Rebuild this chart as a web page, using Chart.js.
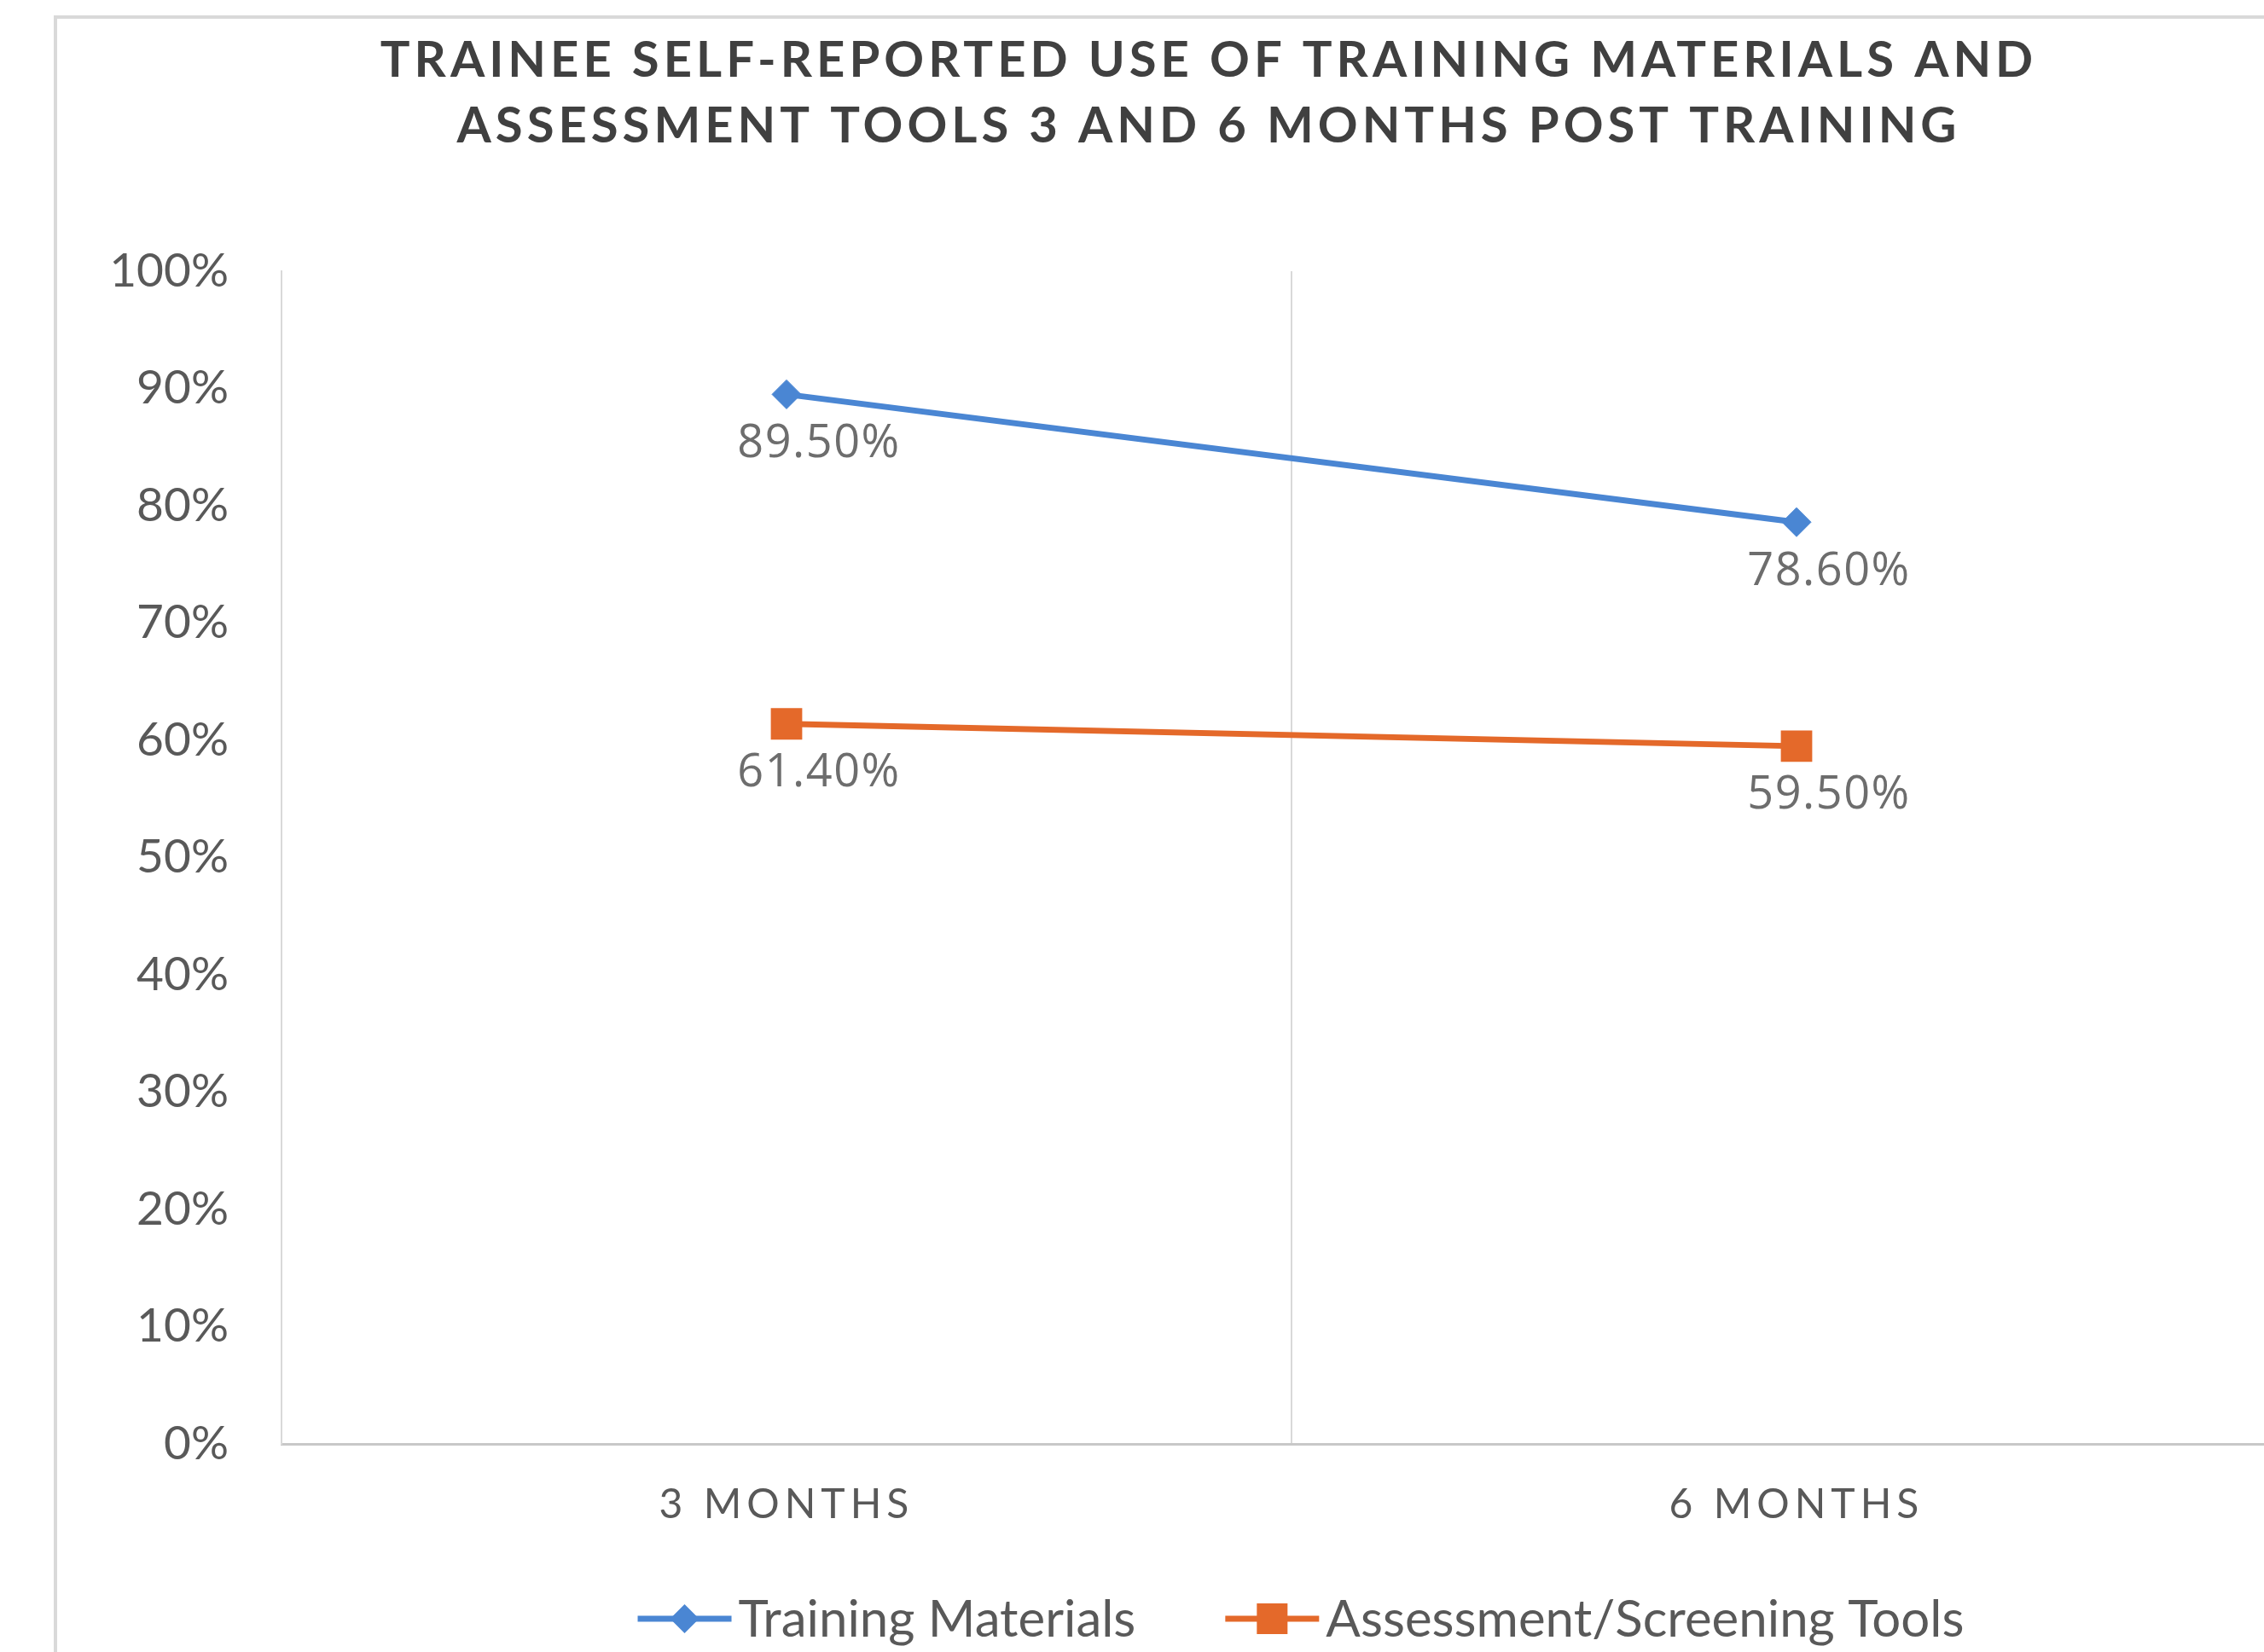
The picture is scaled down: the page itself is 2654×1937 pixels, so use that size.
<!DOCTYPE html>
<html>
<head>
<meta charset="utf-8">
<script src="https://cdn.jsdelivr.net/npm/chart.js@4"></script>
<style>
  html, body { margin: 0; padding: 0; background: #fff; overflow: hidden; }
  #frame {
    position: absolute;
    left: 63px;
    top: 18px;
    width: 2720px;
    height: 1990px;
    border: 4px solid #d9d9d9;
    background: #fff;
  }
  #chart { display: block; }
</style>
</head>
<body>
<div id="frame">
  <canvas id="chart" width="2700" height="1915"></canvas>
</div>
<script>
const categories = ['3 MONTHS', '6 MONTHS'];
const trainingMaterials = [89.5, 78.6];
const assessmentTools = [61.4, 59.5];
const titleLines = [
  'TRAINEE SELF-REPORTED USE OF TRAINING MATERIALS AND',
  'ASSESSMENT TOOLS 3 AND 6 MONTHS POST TRAINING'
];

const BLUE = '#4A86D3';
const ORANGE = '#E4692A';
const TEXT = '#595959';

// title drawn by hand so it can carry the letter spacing
const titlePlugin = {
  id: 'spacedTitle',
  afterDraw(chart) {
    const ctx = chart.ctx;
    ctx.save();
    ctx.font = 'bold 58px Lato';
    ctx.letterSpacing = '5px';
    ctx.fillStyle = '#404040';
    ctx.textAlign = 'center';
    ctx.textBaseline = 'alphabetic';
    ctx.fillText(titleLines[0], 1350, 68);
    ctx.fillText(titleLines[1], 1350, 145);
    ctx.restore();
  }
};

// x tick labels get letter spacing too
const spacedTicks = {
  id: 'spacedTicks',
  beforeDraw(chart) {
    const xs = chart.scales.x;
    if (xs._spaced) return;
    const orig = xs.drawLabels;
    xs.drawLabels = function (area) {
      this.ctx.save();
      this.ctx.letterSpacing = '6px';
      orig.call(this, area);
      this.ctx.restore();
    };
    xs._spaced = true;
  }
};

const valueLabels = {
  id: 'valueLabels',
  afterDatasetsDraw(chart) {
    const ctx = chart.ctx;
    ctx.save();
    ctx.font = '54px "Open Sans"';
    ctx.letterSpacing = '1.5px';
    ctx.fillStyle = '#6d6d6d';
    ctx.textAlign = 'center';
    ctx.textBaseline = 'middle';
    chart.data.datasets.forEach((ds, i) => {
      chart.getDatasetMeta(i).data.forEach((pt, j) => {
        ctx.fillText(ds.data[j].toFixed(2) + '%', pt.x + 38, pt.y + 58);
      });
    });
    ctx.restore();
  }
};

function drawMarker(ctx, style, color, x, y) {
  ctx.fillStyle = color;
  ctx.beginPath();
  if (style === 'rectRot') {
    ctx.moveTo(x, y - 17);
    ctx.lineTo(x + 17, y);
    ctx.lineTo(x, y + 17);
    ctx.lineTo(x - 17, y);
    ctx.closePath();
  } else {
    ctx.rect(x - 18, y - 18, 36, 36);
  }
  ctx.fill();
}

// Excel style legend: line with marker, then label
const lineLegend = {
  id: 'lineLegend',
  afterDraw(chart) {
    const ctx = chart.ctx;
    const area = chart.chartArea;
    const markW = 110, textGap = 8, itemGap = 105;
    ctx.save();
    ctx.font = '60px Lato';
    const items = chart.data.datasets.map(ds => ({
      label: ds.label,
      color: ds.borderColor,
      style: ds.pointStyle,
      w: ctx.measureText(ds.label).width
    }));
    let total = itemGap * (items.length - 1);
    items.forEach(it => { total += markW + textGap + it.w; });
    let x = (area.left + area.right) / 2 - total / 2 + 11;
    const y = chart.height - 39;
    items.forEach(it => {
      ctx.strokeStyle = it.color;
      ctx.lineWidth = 7;
      ctx.beginPath();
      ctx.moveTo(x, y);
      ctx.lineTo(x + markW, y);
      ctx.stroke();
      drawMarker(ctx, it.style, it.color, x + markW / 2, y);
      ctx.fillStyle = TEXT;
      ctx.textAlign = 'left';
      ctx.textBaseline = 'middle';
      ctx.fillText(it.label, x + markW + textGap, y + 2);
      x += markW + textGap + it.w + itemGap;
    });
    ctx.restore();
  }
};

const ctx = document.getElementById('chart').getContext('2d');
new Chart(ctx, {
  type: 'line',
  data: {
    labels: categories,
    datasets: [
      {
        label: 'Training Materials',
        data: trainingMaterials,
        borderColor: BLUE,
        backgroundColor: BLUE,
        borderWidth: 7,
        pointStyle: 'rectRot',
        pointRadius: 17,
        pointBorderWidth: 1,
        tension: 0
      },
      {
        label: 'Assessment/Screening Tools',
        data: assessmentTools,
        borderColor: ORANGE,
        backgroundColor: ORANGE,
        borderWidth: 7,
        pointStyle: 'rect',
        pointRadius: 26,
        pointBorderWidth: 0,
        tension: 0
      }
    ]
  },
  options: {
    responsive: false,
    animation: false,
    devicePixelRatio: 1,
    layout: {
      padding: { top: 296, right: 69, bottom: 0, left: 0 }
    },
    scales: {
      x: {
        offset: true,
        grid: {
          offset: true,
          color: '#d9d9d9',
          lineWidth: 2,
          drawTicks: false
        },
        border: { color: '#c8c8c8', width: 3 },
        ticks: {
          color: TEXT,
          font: { family: 'Lato', size: 48 },
          padding: 43
        },
        afterFit(scale) { scale.height = 244; }
      },
      y: {
        min: 0,
        max: 100,
        grid: { drawOnChartArea: false, drawTicks: false },
        border: { color: '#d9d9d9', width: 2 },
        ticks: {
          stepSize: 10,
          color: TEXT,
          font: { family: 'Lato', size: 55 },
          padding: 62,
          callback: v => v + '%'
        },
        afterFit(scale) { scale.width = 263; }
      }
    },
    plugins: {
      legend: { display: false },
      title: { display: false },
      tooltip: { enabled: false }
    }
  },
  plugins: [titlePlugin, spacedTicks, valueLabels, lineLegend]
});
</script>
</body>
</html>
